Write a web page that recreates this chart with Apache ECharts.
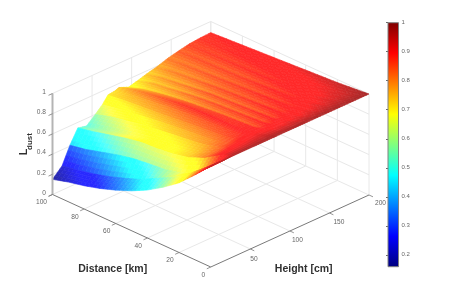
<!DOCTYPE html>
<html><head><meta charset="utf-8">
<style>html,body{margin:0;padding:0;background:#fff}#c{width:450px;height:300px}</style>
<script src="https://cdn.jsdelivr.net/npm/echarts@6/dist/echarts.min.js"></script>
</head><body><div id="c"></div>
<script>
const distances=[100,90,80,70,60,50,40,30,20,10,0];
const heights=[0,12,22,32,43,54,63,70,79,84,96,108,119,132,146,160,173,187,200];
const rowH0  =[.15,.195,.23,.275,.33,.395,.475,.575,.69,.84,1];
const rowH12 =[.24,.27,.305,.35,.405,.465,.55,.63,.735,.865,1];
const rowH22 =[.41,.44,.485,.53,.565,.585,.60,.64,.71,.85,1];
const rowH32 =[.545,.58,.62,.66,.69,.70,.72,.755,.82,.92,1];
const rowH43 =[.525,.57,.61,.65,.68,.70,.725,.765,.83,.925,1];
const rowH54 =[.60,.65,.68,.71,.735,.755,.775,.80,.85,.93,1];
const rowH63 =[.665,.695,.72,.745,.765,.785,.80,.82,.86,.935,1];
const rowH70 =[.735,.755,.77,.785,.80,.82,.835,.85,.875,.94,1];
const rowH79 =[.745,.78,.80,.82,.84,.855,.865,.875,.89,.945,1];
const rowH84 =[.76,.81,.84,.865,.885,.895,.90,.90,.905,.945,1];
const rowH96 =[.72,.77,.80,.825,.845,.86,.875,.885,.895,.94,1];
const rowH108=[.745,.79,.81,.835,.855,.87,.88,.89,.90,.94,1];
const rowH119=[.77,.805,.825,.845,.865,.875,.885,.895,.905,.945,1];
const rowH132=[.795,.825,.84,.855,.87,.88,.89,.90,.91,.945,1];
const rowH146=[.83,.845,.855,.865,.875,.885,.895,.905,.915,.95,1];
const rowH160=[.855,.865,.87,.875,.88,.89,.90,.91,.925,.955,1];
const rowH173=[.875,.88,.885,.89,.895,.90,.91,.92,.935,.96,1];
const rowH187=[.885,.89,.895,.90,.905,.91,.92,.93,.945,.965,1];
const rowH200=[.89,.90,.91,.92,.93,.94,.95,.96,.97,.985,1];
const surface=[rowH0,rowH12,rowH22,rowH32,rowH43,rowH54,rowH63,rowH70,rowH79,rowH84,rowH96,rowH108,rowH119,rowH132,rowH146,rowH160,rowH173,rowH187,rowH200];
// how far each band's colour climbs toward its upper edge, and how far below the surface value it starts
const bandReach=[.5,.45,.45,1,.6,.6,.7,.8,1,1,1,1,1,1,1,1,1,1];
const bandDip=[0,0,0,0,0,0,0,0,0,.015,.05,.05,.05,.04,.035,.03,.02,.01];
const dipByDistance=[.5,.7,.9,1,1,1,1,1,.8,.3,0];
const distanceTicks=[0,20,40,60,80,100];
const heightTicks=[50,100,150,200];
const dustTicks=[0,.2,.4,.6,.8,1];
const barTicks=[.2,.3,.4,.5,.6,.7,.8,.9,1];
const barMin=.159, barMax=1;
const jetStops=[[0,0,0,.5],[.125,0,0,1],[.375,0,1,1],[.625,1,1,0],[.875,1,0,0],[1,.5,0,0]];

const FONT="'Liberation Sans'";
const sheen=.16;
function jet(z){
  let t=Math.max(0,Math.min(1,(z-barMin)/(barMax-barMin)));
  for(let i=1;i<jetStops.length;i++){
    if(t<=jetStops[i][0]){
      const a=jetStops[i-1],b=jetStops[i],f=(t-a[0])/(b[0]-a[0]);
      return [a[1]+(b[1]-a[1])*f,a[2]+(b[2]-a[2])*f,a[3]+(b[3]-a[3])*f];
    }
  }
  return jetStops[jetStops.length-1].slice(1);
}
function css(c){return 'rgb('+c.map(v=>Math.round(255*Math.min(1,Math.max(0,v)))).join(',')+')';}
function proj(d,h,z){return [h/200-d/100,.713*h/200+.718*d/100+z];}

const cells=[];
for(let i=0;i<heights.length-1;i++)for(let j=0;j<distances.length-1;j++)cells.push([i,j]);
cells.sort((a,b)=>(heights[b[0]]/200+distances[b[1]]/100)-(heights[a[0]]/200+distances[a[1]]/100));

const SUB=4;
function renderCell(params,api){
  const i=api.value(0),j=api.value(1);
  const h0=heights[i],h1=heights[i+1],d0=distances[j],d1=distances[j+1];
  const z00=surface[i][j],z01=surface[i][j+1],z10=surface[i+1][j],z11=surface[i+1][j+1];
  const reach=bandReach[i],dip=bandDip[i],f0=dipByDistance[j],f1=dipByDistance[j+1];
  const kids=[];
  const at=(s,t)=>{
    const low=z00*(1-t)+z01*t,top=z10*(1-t)+z11*t,fade=f0*(1-t)+f1*t;
    return {
      c:low+(top-low)*s*reach-dip*(1-s)*fade,
      p:api.coord(proj(d0+(d1-d0)*t,h0+(h1-h0)*s,low+(top-low)*s))
    };
  };
  for(let a=SUB-1;a>=0;a--)for(let b=0;b<SUB;b++){
    const A=at(a/SUB,b/SUB),B=at((a+1)/SUB,b/SUB),C=at((a+1)/SUB,(b+1)/SUB),D=at(a/SUB,(b+1)/SUB);
    const col=css(jet((A.c+B.c+C.c+D.c)/4).map(v=>v+sheen));
    kids.push({type:'polygon',shape:{points:[A.p,B.p,C.p,D.p]},style:{fill:col,stroke:col,lineWidth:.6}});
  }
  return {type:'group',children:kids};
}

function seg(api,a,b,stroke,w){
  const p=api.coord(proj(a[0],a[1],a[2])),q=api.coord(proj(b[0],b[1],b[2]));
  return {type:'line',shape:{x1:p[0],y1:p[1],x2:q[0],y2:q[1]},style:{stroke,lineWidth:w}};
}
function renderBox(params,api){
  const G='#e8e8e8',kids=[];
  distanceTicks.forEach(d=>{
    if(d>0)kids.push(seg(api,[d,0,0],[d,200,0],G,1));
    kids.push(seg(api,[d,200,0],[d,200,1],G,1));
  });
  heightTicks.forEach(h=>{
    kids.push(seg(api,[0,h,0],[100,h,0],G,1));
    kids.push(seg(api,[100,h,0],[100,h,1],G,1));
  });
  dustTicks.forEach(z=>{
    if(z>0){kids.push(seg(api,[100,0,z],[100,200,z],G,1));kids.push(seg(api,[100,200,z],[0,200,z],G,1));}
  });
  return {type:'group',children:kids};
}
function label(api,pt,text,dx,dy,align,font,fill){
  const p=api.coord(proj(pt[0],pt[1],pt[2]));
  return {type:'text',x:p[0]+dx,y:p[1]+dy,
    style:{text,x:0,y:0,font:font,fill:fill,align:align,verticalAlign:'middle'}};
}
function renderAxes(params,api){
  const kids=[],A='#7a7a7a',T='#666666',tf='6.6px '+FONT;
  kids.push(seg(api,[100,0,0],[100,0,1],'#b4b4b4',2));
  kids.push(seg(api,[100,0,0],[0,0,0],A,1));
  kids.push(seg(api,[0,0,0],[0,200,0],A,1));
  distanceTicks.forEach(d=>{
    kids.push(seg(api,[d,-5,0],[d,0,0],A,.8));
    kids.push(label(api,[d,0,0],String(d),-5.5,8,'right',tf,T));
  });
  heightTicks.forEach(h=>{
    kids.push(seg(api,[0,h,0],[-2.5,h,0],A,.8));
    kids.push(label(api,[0,h,0],String(h),(h-50)/25,10.5-(h-50)/60,'left',tf,T));
  });
  dustTicks.forEach(z=>{
    kids.push(seg(api,[100,0,z],[100,-5,z],A,.8));
    kids.push(label(api,[100,0,z],String(z),-6.5,-1.5,'right',tf,T));
  });
  return {type:'group',children:kids};
}
const chart=echarts.init(document.getElementById('c'),null,{renderer:'canvas'});
chart.setOption({
  animation:false,backgroundColor:'#fff',
  grid:[
    {left:52.5,width:316.5,top:20.6,height:246.4,show:false},
    {left:388,width:10.5,top:22.7,height:244,show:true,backgroundColor:'transparent',borderColor:'#808080',borderWidth:1,z:5}
  ],
  xAxis:[
    {gridIndex:0,type:'value',min:-1,max:1,show:false},
    {gridIndex:1,type:'value',min:0,max:1,show:false}
  ],
  yAxis:[
    {gridIndex:0,type:'value',min:0,max:2.44,show:false},
    {gridIndex:1,type:'value',min:barMin,max:barMax,position:'right',splitLine:{show:false},
     axisLine:{show:false},
     axisTick:{show:true,inside:true,length:2,customValues:barTicks,lineStyle:{color:'#444',width:.8}},
     axisLabel:{show:true,customValues:barTicks,inside:false,margin:3,fontSize:6,fontFamily:FONT,color:'#666666',formatter:v=>String(+v.toFixed(1))}}
  ],
  series:[
    {type:'custom',xAxisIndex:0,yAxisIndex:0,z:1,silent:true,clip:false,data:[[0]],renderItem:renderBox},
    {type:'custom',xAxisIndex:0,yAxisIndex:0,z:2,silent:true,clip:false,data:cells,renderItem:renderCell},
    {type:'custom',xAxisIndex:0,yAxisIndex:0,z:3,silent:true,clip:false,data:[[0]],renderItem:renderAxes},
    {type:'custom',xAxisIndex:1,yAxisIndex:1,z:2,silent:true,clip:false,data:[[0]],renderItem:(p,api)=>{
      const a=api.coord([0,barMax]),b=api.coord([1,barMin]);
      return {type:'rect',shape:{x:a[0],y:a[1],width:b[0]-a[0],height:b[1]-a[1]},
        style:{fill:new echarts.graphic.LinearGradient(0,1,0,0,jetStops.map(s=>({offset:s[0],color:css(s.slice(1))})))}};
    }}
  ],
  graphic:[
    {type:'text',x:112.7,y:269.3,style:{text:'Distance [km]',font:'bold 10.5px '+FONT,fill:'#303030',align:'center',verticalAlign:'middle'}},
    {type:'text',x:303.7,y:269.3,style:{text:'Height [cm]',font:'bold 10.5px '+FONT,fill:'#303030',align:'center',verticalAlign:'middle'}},
    {type:'text',x:24,y:152,rotation:Math.PI/2,style:{text:'L',font:'bold 11px '+FONT,fill:'#303030',align:'center',verticalAlign:'middle'}},
    {type:'text',x:29.5,y:141.5,rotation:Math.PI/2,style:{text:'dust',font:'bold 8px '+FONT,fill:'#303030',align:'center',verticalAlign:'middle'}}
  ]
});
</script></body></html>
